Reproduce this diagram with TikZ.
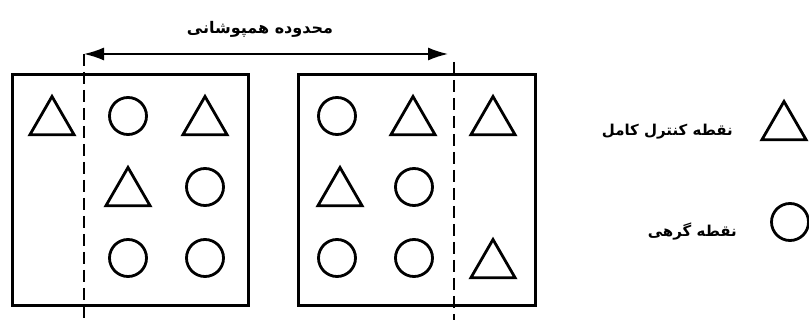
\documentclass[tikz,border=0pt]{standalone}
\usepackage{fontspec}
\newfontfamily\arabicfont[Script=Arabic]{DejaVu Sans}
\TeXXeTstate=1
\usetikzlibrary{shapes.geometric,arrows.meta}
\begin{document}
\begin{tikzpicture}[x=1pt,y=-1pt,
  frame/.style={draw=black,line width=3pt},
  tri/.style={draw=black,line width=2.8pt,regular polygon,regular polygon sides=3,inner sep=0pt,minimum size=51pt},
  circ/.style={draw=black,line width=2.8pt,circle,inner sep=0pt,minimum size=37pt},
  dashline/.style={draw=black,line width=1.6pt,dash pattern=on 12pt off 6pt},
  dimarrow/.style={draw=black,line width=1.6pt,{Latex[length=20pt,width=13pt]}-{Latex[length=20pt,width=13pt]}},
  lbl/.style={font=\arabicfont\bfseries\fontsize{15}{18}\selectfont,inner sep=0pt},
  lbltitle/.style={font=\arabicfont\bfseries\fontsize{16}{19}\selectfont,inner sep=0pt}]
\useasboundingbox (0,0) rectangle (809,320);
% frames
\draw[frame] (12,75) rectangle (248,306);
\draw[frame] (298,75) rectangle (535,306);
% dashed overlap lines
\coordinate (d1t) at (84,54);
\coordinate (d1b) at (84,322);
\coordinate (d2t) at (454,62);
\coordinate (d2b) at (454,322);
\draw[dashline] (d1t) -- (d1b);
\draw[dashline] (d2t) -- (d2b);
% overlap arrow
\coordinate (a1) at (84,54);
\coordinate (a2) at (448,54);
\draw[dimarrow] (a1) -- (a2);
\node[lbltitle] (title) at (260,29) {\beginR محدوده همپوشانی\endR};
% left frame
\node[tri]  (l11) at (52,122) {};
\node[circ] (l12) at (128,116) {};
\node[tri]  (l13) at (205,122) {};
\node[tri]  (l22) at (128,193) {};
\node[circ] (l23) at (205,187) {};
\node[circ] (l32) at (128,258) {};
\node[circ] (l33) at (205,258) {};
% right frame
\node[circ] (r11) at (337,116) {};
\node[tri]  (r12) at (413,122) {};
\node[tri]  (r13) at (493,122) {};
\node[tri]  (r21) at (340,193) {};
\node[circ] (r22) at (414,187) {};
\node[circ] (r31) at (337,258) {};
\node[circ] (r32) at (414,258) {};
\node[tri]  (r33) at (493,265) {};
% legend
\node[tri]  (lt) at (784,127) {};
\node[lbl,anchor=east] (ltt) at (733,132) {\beginR نقطه کنترل کامل\endR};
\node[circ] (lc) at (790,222) {};
\node[lbl,anchor=east] (lct) at (737,232) {\beginR نقطه گرهی\endR};
\end{tikzpicture}
\end{document}
